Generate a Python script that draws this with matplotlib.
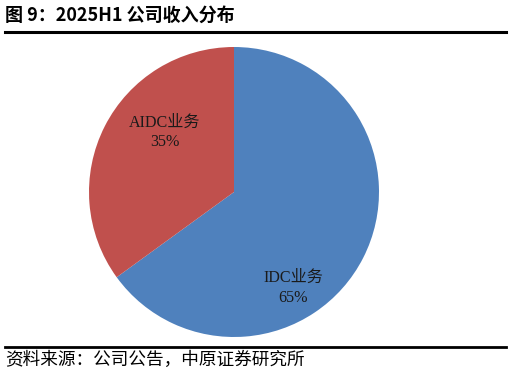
import matplotlib
matplotlib.use("Agg")
import matplotlib.pyplot as plt
from matplotlib.lines import Line2D

plt.rcParams['font.family'] = ['Noto Sans CJK SC', 'DejaVu Sans']

labels = ["IDC业务", "AIDC业务"]
shares = [65, 35]
colors = ["#4F81BD", "#C0504D"]
# label anchor spots inside each wedge (axes data units, radius 1)
label_xy = [(0.41, -0.66), (-0.48, 0.41)]

fig = plt.figure(figsize=(5.11, 3.78), dpi=100)

ax = fig.add_axes([89 / 511, 41 / 378, 290 / 511, 290 / 378])
ax.pie(shares, colors=colors, startangle=90, counterclock=False,
       radius=1, wedgeprops=dict(linewidth=0))
ax.set_xlim(-1, 1)
ax.set_ylim(-1, 1)
ax.set_aspect("auto")
ax.axis("off")

for (x, y), name, v in zip(label_xy, labels, shares):
    ax.text(x, y, f"{name}\n{v}%", ha="center", va="center", fontsize=11.6,
            linespacing=1.3, color="#1a1a1a",
            family=["Liberation Serif", "Noto Sans CJK SC"])

fig.text(5 / 511, 1 - 15 / 378, "图 9：2025H1 公司收入分布", fontsize=13,
         fontweight="bold", ha="left", va="center")
fig.add_artist(Line2D([5 / 511, 506 / 511], [1 - 32 / 378] * 2, color="black",
                      linewidth=2.2, transform=fig.transFigure))
fig.add_artist(Line2D([5 / 511, 506 / 511], [1 - 347 / 378] * 2, color="black",
                      linewidth=2.0, transform=fig.transFigure))
fig.text(5 / 511, 1 - 360 / 378, "资料来源：公司公告，中原证券研究所", fontsize=12.7,
         fontweight="light", ha="left", va="center")

fig.savefig("out.png", dpi=100)
